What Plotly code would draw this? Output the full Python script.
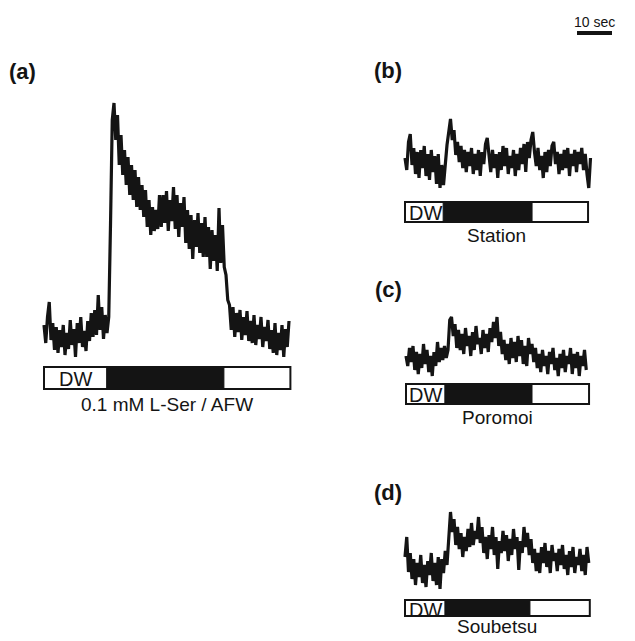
import numpy as np
import plotly.graph_objects as go

# ---------------- data (response in arbitrary units, sampled every 0.5 s) ----------------
dt = 0.5

resp_a = [10, -8, 18, 33, -5, 12, -15, 8, -18, 5, -12, 10, -20, 2, -14, 15, -10, 6, -22, 12,
          -8, 18, -12, 4, -16, 14, -6, 22, -2, 25, 0, 40, 5, 28, -4, 20, 2, 18,
          110, 215, 232, 195, 220, 170, 200, 160, 185,
          150, 178, 140, 170, 135, 165, 128, 158, 125, 150, 118, 145,
          108, 135, 100, 128, 104, 125, 106, 140,
          108, 140, 112, 144, 104, 135, 114, 148, 106, 140, 98, 132, 108, 138,
          92, 125, 86, 120, 76, 115, 88, 122, 82, 112, 78, 118,
          78, 108, 66, 105, 74, 100, 64, 127, 72, 110, 68,
          60, 35, 30,
          5, 28, -2, 22, 3, 25, -5, 18, 0, 24, -6,
          14, -8, 20, -10, 10, -4, 18, -12, 8, -6, 15, -14,
          5, -18, 12, -20, 2, -15, 10, -22, 6, -12, 14]

resp_b = [2, -10, 18, 26, -5, 12, -14, 8, -18, 10, -8, 14, -16, 6, -20, 10, -12, 4, -24, 6,
          -28, -5, -25, 0, 15, 28, 41, 20, 30, 5, 18, -2, 14, -8, 10, -12, 8, -6, 12, -14,
          6, -10, 10, -16, 8, -4, 16, 22, 2, -12, 10, -8, 6, -18, 8, -10, 14, -6, 12, -14,
          4, -8, 10, -16, 6, -10, 12, -4, 16, -12, 18, 2, 20, 28, 8, -6, 12, -10, 4, -18,
          8, -12, 10, -6, 14, 18, -4, 8, -14, 6, -10, 10, -8, 12, -16, 6, -6, 10, -12, 8,
          -4, 12, -10, 6, -14, -28, 2]

resp_c = [2, -8, 10, -4, 12, -12, 6, -16, 4, -10, 14, -6, 8, -14, 2, -18, 6, -8, 16, -4,
          10, -2, 12, 0, 8, 38, 41, 22, 34, 10, 28, 8, 24, 4, 30, 12, 22, 2, 26, 8,
          32, 14, 20, 4, 28, 10, 24, 6, 30, 16, 36, 20, 41, 12, 26, 4, 18, -2, 14, -6,
          20, 0, 16, -4, 22, 2, 18, -6, 12, -8, 20, 4, 14, -4, 10, -10, 4, -14, 8, -8,
          2, -16, 6, -6, 10, -12, 0, -18, 4, -10, 8, -14, 2, -6, 10, -16, 4, -10, 6, -18,
          2, -8, 8, -12]

resp_d = [10, 30, -5, 14, -12, 8, -18, 4, -10, 12, -16, 2, -20, 6, -8, 14, -14, 4, -18, 10,
          -22, 8, -6, 16, 2, 30, 55, 35, 48, 22, 40, 18, 34, 10, 30, 16, 38, 20, 44, 22,
          36, 28, 50, 24, 40, 14, 30, 8, 32, 18, 40, 12, 30, -2, 26, 14, 36, 16, 32, 6,
          28, 12, 38, 18, 30, -3, 26, 14, 40, 20, 34, 12, 28, 4, 18, -4, 14, -6, 20, 4,
          24, 0, 16, -6, 22, 6, 14, -4, 18, 2, 22, -2, 12, -8, 16, 0, 20, -6, 10, 2,
          18, -4, 12, -8, 20, 4]

# stimulus timing (s): [record end, stimulus on, stimulus off]
bar_a = [70.4, 17.9, 51.4]
bar_b = [52.3, 10.9, 36.3]
bar_c = [52.3, 11.1, 36.0]
bar_d = [52.8, 11.4, 35.7]

titles = ["(a)", "(b)", "(c)", "(d)"]
stim_labels = ["0.1 mM L-Ser / AFW", "Station", "Poromoi", "Soubetsu"]
scale_len = 10  # seconds

# ---------------- layout helpers ----------------
W, H = 635, 641
PXS = 3.5  # pixels per second


def fy(py):
    return 1 - py / H


def fx(px):
    return px / W


ink = "#141414"
FONT = "Liberation Sans, Arial, Helvetica"
fig = go.Figure()

panels = [
    dict(r=resp_a, bar=bar_a, ax="", x0=44, dx=(30, 300), dy=(95, 362), base=335,
         bary=(367, 389), dwx=13, laby=404, tpos=(22, 72)),
    dict(r=resp_b, bar=bar_b, ax="2", x0=405, dx=(400, 635), dy=(110, 195), base=160,
         bary=(202, 222), dwx=2, laby=235, tpos=(388, 71)),
    dict(r=resp_c, bar=bar_c, ax="3", x0=406, dx=(400, 635), dy=(310, 382), base=358,
         bary=(384, 404), dwx=1, laby=418, tpos=(388, 289)),
    dict(r=resp_d, bar=bar_d, ax="4", x0=405, dx=(400, 635), dy=(500, 595), base=567,
         bary=(600, 616), dwx=2, laby=626, tpos=(388, 492)),
]

shapes = []
annots = []
for k, p in enumerate(panels):
    t = np.arange(len(p["r"])) * dt
    xa = "x" + p["ax"]
    ya = "y" + p["ax"]
    fig.add_trace(go.Scatter(x=t, y=p["r"], mode="lines", line=dict(color=ink, width=3.2),
                             xaxis=xa, yaxis=ya, showlegend=False, hoverinfo="skip"))
    xr = [(p["dx"][0] - p["x0"]) / PXS, (p["dx"][1] - p["x0"]) / PXS]
    yr = [p["base"] - p["dy"][1], p["base"] - p["dy"][0]]
    xkey = "xaxis" + p["ax"]
    ykey = "yaxis" + p["ax"]
    fig.update_layout({
        xkey: dict(domain=[fx(p["dx"][0]), fx(p["dx"][1])], range=xr, visible=False, anchor=ya),
        ykey: dict(domain=[fy(p["dy"][1]), fy(p["dy"][0])], range=yr, visible=False, anchor=xa),
    })
    end, on, off = p["bar"]
    y0, y1 = fy(p["bary"][1]), fy(p["bary"][0])
    shapes.append(dict(type="rect", xref=xa, yref="paper", x0=0, x1=end, y0=y0, y1=y1,
                       line=dict(color=ink, width=2), fillcolor="white"))
    shapes.append(dict(type="rect", xref=xa, yref="paper", x0=on, x1=off, y0=y0, y1=y1,
                       line=dict(color=ink, width=1), fillcolor=ink))
    annots.append(dict(x=p["dwx"] / PXS, y=fy((p["bary"][0] + p["bary"][1]) / 2 + 1.5),
                       xref=xa, yref="paper", text="DW", showarrow=False,
                       xanchor="left", yanchor="middle",
                       font=dict(family=FONT, size=20, color=ink)))
    annots.append(dict(x=end / 2, y=fy(p["laby"]), xref=xa, yref="paper", text=stim_labels[k],
                       showarrow=False, xanchor="center", yanchor="middle",
                       font=dict(family=FONT, size=19, color=ink)))
    annots.append(dict(x=fx(p["tpos"][0]), y=fy(p["tpos"][1]), xref="paper", yref="paper",
                       text="<b>" + titles[k] + "</b>", showarrow=False, xanchor="center",
                       yanchor="middle", font=dict(family=FONT, size=22, color=ink)))

# scale bar (10 s) drawn on panel (b)'s time axis
sb0 = (577 - 405) / PXS
shapes.append(dict(type="line", xref="x2", yref="paper", x0=sb0, x1=sb0 + scale_len,
                   y0=fy(33), y1=fy(33), line=dict(color=ink, width=4)))
annots.append(dict(x=sb0 + scale_len / 2, y=fy(22), xref="x2", yref="paper", text="10 sec",
                   showarrow=False, xanchor="center", yanchor="middle",
                   font=dict(family=FONT, size=14, color=ink)))

fig.update_layout(width=W, height=H, margin=dict(l=0, r=0, t=0, b=0),
                  paper_bgcolor="white", plot_bgcolor="rgba(0,0,0,0)",
                  shapes=shapes, annotations=annots)

fig.write_html("out.html")
